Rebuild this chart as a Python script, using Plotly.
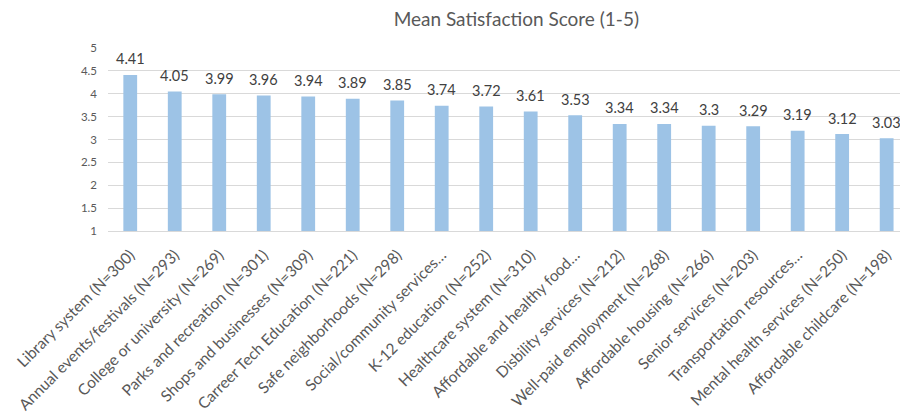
import plotly.graph_objects as go

categories = [
    "Library system (N=300)",
    "Annual events/festivals (N=293)",
    "College or university (N=269)",
    "Parks and recreation (N=301)",
    "Shops and businesses (N=309)",
    "Carreer Tech Education (N=221)",
    "Safe neighborhoods (N=298)",
    "Social/community services…",
    "K-12 education (N=252)",
    "Healthcare system (N=310)",
    "Affordable and healthy food…",
    "Disbility services (N=212)",
    "Well-paid employment (N=268)",
    "Affordable housing (N=266)",
    "Senior services (N=203)",
    "Transportation resources…",
    "Mental health services (N=250)",
    "Affordable childcare (N=198)",
]
scores = [4.41, 4.05, 3.99, 3.96, 3.94, 3.89, 3.85, 3.74, 3.72, 3.61,
          3.53, 3.34, 3.34, 3.3, 3.29, 3.19, 3.12, 3.03]
y_ticks = [1, 1.5, 2, 2.5, 3, 3.5, 4, 4.5, 5]

FONT = "Lato, 'Open Sans', sans-serif"
GREY = "#595959"
AXIS_FLOOR = 1

fig = go.Figure()
fig.add_trace(go.Bar(
    x=list(range(len(categories))),
    y=[s - AXIS_FLOOR for s in scores],
    base=AXIS_FLOOR,
    width=0.31,
    marker=dict(color="#9dc3e6", line=dict(width=0)),
    hoverinfo="skip",
))

for i, s in enumerate(scores):
    fig.add_annotation(
        x=i, y=s, text=f"{s:g}", showarrow=False, yshift=16,
        font=dict(family=FONT, size=14.5, color="#404040"),
        yanchor="middle",
    )

fig.update_layout(
    width=900, height=416,
    margin=dict(l=108, r=0, t=48, b=185),
    paper_bgcolor="white", plot_bgcolor="white",
    showlegend=False,
    title=dict(text="Mean Satisfaction Score (1-5)", x=464 / 900, xanchor="center",
               y=1 - 19 / 416, yanchor="middle", xref="paper", yref="container",
               font=dict(family=FONT, size=19, color=GREY)),
    font=dict(family=FONT, color=GREY),
)
fig.update_xaxes(
    tickmode="array",
    tickvals=list(range(len(categories))),
    ticktext=categories,
    tickangle=-45,
    range=[-0.5, 17.3],
    showgrid=False,
    showline=True, linecolor="#d9d9d9", linewidth=1,
    ticks="",
    ticklabelstandoff=8,
    tickfont=dict(family=FONT, size=15.5, color=GREY),
)
fig.update_yaxes(
    range=[1, 5],
    tickvals=y_ticks,
    ticktext=[f"{v:g}" for v in y_ticks],
    showgrid=True, gridcolor="#d9d9d9", gridwidth=1,
    zeroline=False, showline=False, ticks="",
    ticklabelstandoff=10,
    tickfont=dict(family=FONT, size=11.5, color=GREY),
)

fig.write_html("out.html")
